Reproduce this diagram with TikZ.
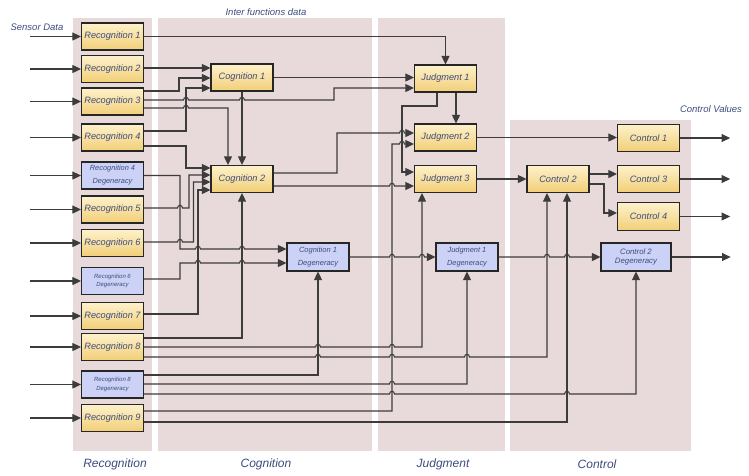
\documentclass[tikz,border=0pt]{standalone}
\usepackage{fontspec}
\setmainfont{Liberation Sans}
\usetikzlibrary{arrows.meta,calc}
\definecolor{bg}{HTML}{E8D9DA}
\definecolor{txt}{HTML}{3D4C7E}
\definecolor{ln}{HTML}{3C3C3C}
\definecolor{yl}{HTML}{FDF1CB}
\definecolor{yd}{HTML}{F2CF77}
\definecolor{bl}{HTML}{CBD2F6}
\begin{document}
\begin{tikzpicture}[x=1pt,y=-1pt,
  box/.style={draw=black!85,line width=1.2pt,minimum width=62pt,minimum height=27pt,inner sep=0pt,text=txt,align=center},
  ybox/.style={box,top color=yl,bottom color=yd,font=\itshape\fontsize{9.2}{10}\selectfont},
  bbox/.style={box,fill=bl},
  conn/.style={draw=ln,line width=1.1pt,-{Triangle[length=8.5pt,width=8pt]}},
  hop/.style={to path={.. controls +(0,-3.5) and +(0,-3.5) .. (\tikztotarget)}},
  lab/.style={text=txt,font=\itshape\fontsize{9.5}{11}\selectfont},
  colname/.style={text=txt,font=\itshape\fontsize{12}{14}\selectfont}
]
\useasboundingbox (0,0) rectangle (749,475);
% column backgrounds
\fill[bg] (73,18) rectangle (152,451);
\fill[bg] (158,18) rectangle (372,451);
\fill[bg] (378,18) rectangle (505,451);
\fill[bg] (510,120) rectangle (691,451);
% labels
\node[colname] (lrec) at (115,464) {Recognition};
\node[colname] (lcog) at (266,464) {Cognition};
\node[colname] (ljud) at (443,464) {Judgment};
\node[colname] (lctl) at (597,464) {Control};
\node[lab] (linter) at (266,12) {Inter functions data};
\node[lab] (lsens) at (37,27) {Sensor Data};
\node[lab] (lcv) at (711,109) {Control Values};
% recognition
\node[ybox] (r1) at (112.5,36.5) {Recognition 1};
\node[ybox] (r2) at (112.5,69) {Recognition 2};
\node[ybox] (r3) at (112.5,101.5) {Recognition 3};
\node[ybox] (r4) at (112.5,137.5) {Recognition 4};
\node[bbox,font=\itshape\fontsize{7.4}{13}\selectfont] (r4d) at (112.5,175.5) {Recognition 4\\Degeneracy};
\node[ybox] (r5) at (112.5,209.5) {Recognition 5};
\node[ybox] (r6) at (112.5,243) {Recognition 6};
\node[bbox,font=\itshape\fontsize{6}{8.5}\selectfont] (r6d) at (112.5,281) {Recognition 6\\Degeneracy};
\node[ybox] (r7) at (112.5,316) {Recognition 7};
\node[ybox] (r8) at (112.5,347) {Recognition 8};
\node[bbox,font=\itshape\fontsize{6}{8.5}\selectfont] (r8d) at (112.5,384.5) {Recognition 8\\Degeneracy};
\node[ybox] (r9) at (112.5,418) {Recognition 9};
% cognition
\node[ybox] (c1) at (242,77.5) {Cognition 1};
\node[ybox] (c2) at (242,179) {Cognition 2};
\node[bbox,minimum height=28pt,font=\itshape\fontsize{7.5}{13}\selectfont] (c1d) at (318,257) {Cognition 1\\Degeneracy};
% judgment
\node[ybox] (j1) at (445.5,78.5) {Judgment 1};
\node[ybox] (j2) at (445.5,137.5) {Judgment 2};
\node[ybox] (j3) at (445.5,179) {Judgment 3};
\node[bbox,minimum height=28pt,font=\itshape\fontsize{7.4}{13}\selectfont] (j1d) at (467,257) {Judgment 1\\Degeneracy};
% control
\node[ybox] (k1) at (648.5,138) {Control 1};
\node[ybox] (k2) at (558,179) {Control 2};
\node[ybox] (k3) at (648.5,179) {Control 3};
\node[ybox,minimum height=28pt] (k4) at (648.5,216.5) {Control 4};
\node[bbox,minimum width=70pt,minimum height=28pt,font=\itshape\fontsize{7.8}{9}\selectfont] (k2d) at (636,257) {Control 2\\Degeneracy};
% sensor inputs
\foreach \n in {r1,r2,r3,r4,r4d,r5,r6,r6d,r7,r8,r8d,r9}
  \draw[conn] ([xshift=-51pt]\n.west) -- (\n.west);
% recognition -> others
\draw[conn] (r1.east) -| (j1.north);
\draw[conn] (r2.east |- 0,68) -- (c1.west |- 0,68);
\draw[conn] (r3.east |- 0,91) -- (179,91) -- (179,78) -- (c1.west |- 0,78);
\draw[conn] (r3.east |- 0,100) -- (183.5,100) to[hop] (188.5,100) -- (239.5,100) to[hop] (244.5,100) -- (334,100) -- (334,88) -- (j1.west |- 0,88);
\draw[conn] (r3.east |- 0,108) -- (183.5,108) to[hop] (188.5,108) -- (228,108) -- (c2.north -| 228,0);
\draw[conn] (r4.east |- 0,131) -- (186,131) -- (186,88) -- (c1.west |- 0,88);
\draw[conn] (r4.east |- 0,146) -- (186,146) -- (186,168) -- (c2.west |- 0,168);
\draw[conn] (r4d.east) -- (180,175.5) -- (180,249) -- (195.5,249) to[hop] (200.5,249) -- (239.5,249) to[hop] (244.5,249) -- (c1d.west |- 0,249);
\draw[conn] (r5.east |- 0,208) -- (177.5,208) to[hop] (182.5,208) -- (189,208) -- (189,175) -- (c2.west |- 0,175);
\draw[conn] (r6.east |- 0,242) -- (177.5,242) to[hop] (182.5,242) -- (193.5,242) -- (193.5,182) -- (c2.west |- 0,182);
\draw[conn] (r6d.east |- 0,279) -- (180,279) -- (180,263) -- (195.5,263) to[hop] (200.5,263) -- (239.5,263) to[hop] (244.5,263) -- (c1d.west |- 0,263);
\draw[conn] (r7.east |- 0,314) -- (198,314) -- (198,190) -- (c2.west |- 0,190);
\draw[conn] (r8.east |- 0,338) -| (c2.south);
\draw[conn] (r8.east |- 0,347) -- (315.5,347) to[hop] (320.5,347) -- (389.5,347) to[hop] (394.5,347) -- (422,347) -- (j3.south -| 422,0);
\draw[conn] (r8.east |- 0,357) -- (315.5,357) to[hop] (320.5,357) -- (389.5,357) to[hop] (394.5,357) -- (464.5,357) to[hop] (469.5,357) -- (547,357) -- (k2.south -| 547,0);
\draw[conn] (r8d.east |- 0,375) -| (c1d.south);
\draw[conn] (r8d.east |- 0,384) -- (389.5,384) to[hop] (394.5,384) -| (j1d.south);
\draw[conn] (r8d.east |- 0,394) -- (389.5,394) to[hop] (394.5,394) -- (564.5,394) to[hop] (569.5,394) -| (k2d.south);
\draw[conn] (r9.east |- 0,411) -- (392,411) -- (392,144) -- (399.5,144) to[hop] (404.5,144) -- (j2.west |- 0,144);
\draw[conn] (r9.east |- 0,422) -- (567,422) -- (k2.south -| 567,0);
% cognition -> others
\draw[conn] (c1.south) -- (c2.north);
\draw[conn] (c1.east) -- (c1.east -| j1.west);
\draw[conn] (c2.east |- 0,173) -- (337,173) -- (337,133) -- (399.5,133) to[hop] (404.5,133) -- (j2.west |- 0,133);
\draw[conn] (c2.east |- 0,186) -- (389.5,186) to[hop] (394.5,186) -- (j3.west |- 0,186);
\draw[conn] (c1d.east) -- (389.5,257) to[hop] (394.5,257) -- (419.5,257) to[hop] (424.5,257) -- (j1d.west);
% judgment -> others
\draw[conn] (j1.south -| 456,0) -- (j2.north -| 456,0);
\draw[conn] (j1.south -| 437,0) -- (437,106) -- (402,106) -- (402,172) -- (j3.west |- 0,172);
\draw[conn] (j2.east) -- (j2.east -| k1.west);
\draw[conn] (j3.east) -- (k2.west);
\draw[conn] (j1d.east) -- (544.5,257) to[hop] (549.5,257) -- (564.5,257) to[hop] (569.5,257) -- (k2d.west);
% control
\draw[conn] (k2.east |- 0,174) -- (k3.west |- 0,174);
\draw[conn] (k2.east |- 0,184) -- (604,184) -- (604,213) -- (k4.west |- 0,213);
\draw[conn] (k1.east) -- ([xshift=50pt]k1.east);
\draw[conn] (k3.east) -- ([xshift=50pt]k3.east);
\draw[conn] (k4.east) -- ([xshift=50pt]k4.east);
\draw[conn] (k2d.east) -- ([xshift=59pt]k2d.east);
\end{tikzpicture}
\end{document}
